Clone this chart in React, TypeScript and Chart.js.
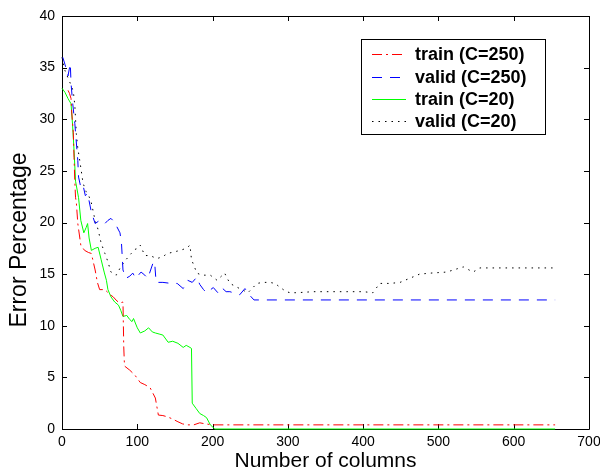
import React, { useEffect, useRef } from "react";
import { Chart, registerables } from "chart.js";
Chart.register(...registerables);

const seriesLabels = ["train (C=250)", "valid (C=250)", "train (C=20)", "valid (C=20)"];
const xTitle = "Number of columns";
const yTitle = "Error Percentage";
const xTicks = [0, 100, 200, 300, 400, 500, 600, 700];
const yTicks = [0, 5, 10, 15, 20, 25, 30, 35, 40];

const trainC250X = [8, 10, 12, 13, 15, 16, 17, 18, 19, 21, 25, 30, 35, 39, 44, 47, 50, 57, 64, 68, 73, 77, 81, 82, 83, 90, 97, 104, 110, 117, 124, 128, 134, 139, 146, 154, 160, 166, 175, 183, 190, 200, 655];
const trainC250Y = [32.8, 32.5, 32, 30.6, 28.7, 26.3, 24, 22.4, 22, 19.9, 17.8, 17.3, 17.1, 17, 15.4, 14.2, 13.5, 13.5, 13, 12.8, 12.4, 12.2, 12.3, 8, 6.1, 5.7, 5.2, 4.5, 4.3, 4.0, 3.0, 1.35, 1.3, 1.2, 1.0, 0.7, 0.5, 0.4, 0.4, 0.6, 0.5, 0.4, 0.4];

const validC250X = [1, 4, 8, 11, 12, 14, 17, 21, 22, 25, 28, 31, 34, 39, 44, 50, 57, 61, 65, 70, 77, 79, 81, 85, 90, 94, 98, 105, 110, 114, 121, 123, 125, 134, 145, 153, 161, 167, 173, 179, 183, 188, 192, 201, 207, 212, 218, 223, 236, 243, 250, 255, 655];
const validC250Y = [36, 35.3, 34.2, 35.4, 33.5, 31.7, 29.6, 26, 24.4, 23.4, 23.6, 22.6, 22.8, 21, 19.9, 20.2, 19.9, 20.2, 20.4, 20.0, 19, 18, 15.4, 14.6, 14.8, 15.1, 14.6, 15.2, 14.9, 14.6, 16.1, 16.2, 14.2, 14.2, 14.1, 14.1, 13.6, 14.4, 14.2, 14.7, 14.0, 13.5, 13.2, 13.7, 13.2, 13.7, 13.3, 13.3, 13.0, 13.6, 12.9, 12.5, 12.5];

const trainC20X = [0, 4, 8, 12, 14, 16, 18, 22, 25, 29, 32, 34, 36, 39, 44, 48, 52, 56, 59, 61, 65, 70, 75, 78, 81, 86, 90, 93, 95, 100, 104, 110, 115, 120, 124, 129, 134, 141, 147, 154, 161, 165, 170, 172, 173, 178, 183, 188, 192, 197, 203, 655];
const trainC20Y = [33, 32.6, 32, 31.5, 29.5, 27, 24, 22.4, 20.2, 19, 19.5, 19.9, 18.5, 17.3, 17.5, 17.6, 16.4, 15.2, 14.4, 13.5, 12.8, 12.3, 12.0, 11.5, 10.9, 11, 10.6, 10.4, 10.7, 9.8, 9.3, 9.5, 9.8, 9.4, 9.3, 9.2, 9.1, 8.4, 8.5, 8.3, 7.9, 8.1, 7.9, 7.8, 2.5, 2.0, 1.5, 1.3, 1.1, 0.4, 0, 0];

const validC20X = [0, 4, 8, 12, 15, 17, 18, 19, 21, 24, 28, 32, 36, 39, 44, 48, 52, 57, 61, 65, 72, 78, 85, 92, 97, 101, 104, 110, 117, 126, 134, 140, 146, 157, 165, 170, 172, 176, 179, 186, 197, 206, 216, 223, 236, 247, 259, 267, 276, 283, 290, 298, 303, 312, 334, 356, 378, 400, 413, 422, 436, 449, 462, 475, 490, 511, 533, 546, 555, 600, 655];
const validC20Y = [36, 34.7, 34, 33.3, 32.7, 31.4, 30, 28.6, 27.2, 25.8, 23.8, 23, 22.5, 21.9, 20.2, 19.3, 18, 17, 16.2, 15.2, 14.9, 15.7, 16.4, 17, 17.4, 17.5, 17.8, 16.8, 16.8, 16.5, 16.7, 17, 17.1, 17.3, 17.5, 17.8, 16.4, 15.7, 15.1, 14.9, 14.9, 14.4, 15.1, 14.1, 13.6, 13.2, 14.1, 14.2, 14.2, 14.1, 13.7, 13.3, 13.2, 13.2, 13.3, 13.3, 13.3, 13.3, 13.2, 14.1, 14.1, 14.2, 14.6, 15.0, 15.1, 15.2, 15.7, 15.2, 15.6, 15.6, 15.6];

const colors = ["#ff0000", "#0000ff", "#00ff00", "#000000"];
const dashes = [[10, 4, 2, 4], [10, 8], [], [1.5, 5]];
const FONT = "'Liberation Sans', Arial, Helvetica, sans-serif";

const toPts = (xs: number[], ys: number[]) => xs.map((x, i) => ({ x, y: ys[i] }));

const framePlugin = {
  id: "frame",
  beforeDatasetsDraw(chart: any) {
    const { ctx, chartArea } = chart;
    const xs = chart.scales.x;
    const ys = chart.scales.y;
    const { left, right, top, bottom } = chartArea;
    ctx.save();
    ctx.strokeStyle = "#000";
    ctx.lineWidth = 1;
    ctx.setLineDash([]);
    ctx.beginPath();
    ctx.rect(Math.round(left) + 0.5, Math.round(top) + 0.5, Math.round(right - left), Math.round(bottom - top));
    ctx.stroke();
    const tl = 5;
    ctx.beginPath();
    xTicks.forEach((v) => {
      const px = Math.round(xs.getPixelForValue(v)) + 0.5;
      ctx.moveTo(px, bottom);
      ctx.lineTo(px, bottom - tl);
      ctx.moveTo(px, top);
      ctx.lineTo(px, top + tl);
    });
    yTicks.forEach((v) => {
      const py = Math.round(ys.getPixelForValue(v)) + 0.5;
      ctx.moveTo(left, py);
      ctx.lineTo(left + tl, py);
      ctx.moveTo(right, py);
      ctx.lineTo(right - tl, py);
    });
    ctx.stroke();
    ctx.restore();
  },
  afterDraw(chart: any) {
    const { ctx, chartArea } = chart;
    ctx.save();
    ctx.fillStyle = "#000";
    ctx.textAlign = "center";
    ctx.textBaseline = "middle";
    ctx.font = `21px ${FONT}`;
    ctx.fillText(xTitle, (chartArea.left + chartArea.right) / 2, 461);
    ctx.translate(20, 240);
    ctx.rotate(-Math.PI / 2);
    ctx.font = `23px ${FONT}`;
    ctx.fillText(yTitle, 0, 0);
    ctx.restore();
  },
};

const legendPlugin = {
  id: "customLegend",
  afterDraw(chart: any) {
    const { ctx } = chart;
    const bx = 361.5, by = 39.5, bw = 184, bh = 95;
    ctx.save();
    ctx.fillStyle = "#fff";
    ctx.fillRect(bx, by, bw, bh);
    ctx.strokeStyle = "#000";
    ctx.lineWidth = 1;
    ctx.setLineDash([]);
    ctx.strokeRect(bx, by, bw, bh);
    const rows = [54, 77, 99, 121];
    ctx.font = `bold 18px ${FONT}`;
    ctx.textBaseline = "middle";
    ctx.textAlign = "left";
    seriesLabels.forEach((lab, i) => {
      const y = rows[i] + 0.5;
      ctx.strokeStyle = colors[i];
      ctx.setLineDash(dashes[i]);
      ctx.beginPath();
      ctx.moveTo(372, y);
      ctx.lineTo(406, y);
      ctx.stroke();
      ctx.fillStyle = "#000";
      ctx.fillText(lab, 415, rows[i] + 1);
    });
    ctx.restore();
  },
};

export default function App() {
  const ref = useRef<HTMLCanvasElement>(null);
  useEffect(() => {
    document.body.style.margin = "0";
    const canvas = ref.current!;
    const datasets = [
      toPts(trainC250X, trainC250Y),
      toPts(validC250X, validC250Y),
      toPts(trainC20X, trainC20Y),
      toPts(validC20X, validC20Y),
    ].map((data, i) => ({
      label: seriesLabels[i],
      data,
      borderColor: colors[i],
      backgroundColor: colors[i],
      borderWidth: 1,
      borderDash: dashes[i],
      pointRadius: 0,
      tension: 0,
      fill: false,
      clip: 2,
    }));
    const chart = new Chart(canvas, {
      type: "line",
      data: { datasets },
      plugins: [framePlugin, legendPlugin],
      options: {
        responsive: false,
        animation: false,
        layout: { padding: { left: 0, top: 16, right: 11, bottom: 0 } },
        plugins: { legend: { display: false }, tooltip: { enabled: false } },
        scales: {
          x: {
            type: "linear",
            min: 0,
            max: 700,
            afterBuildTicks: (s: any) => { s.ticks = xTicks.map((v) => ({ value: v })); },
            afterFit: (s: any) => { s.height = 45; s.paddingLeft = 0; s.paddingRight = 0; },
            grid: { display: false, drawTicks: false },
            border: { display: false },
            ticks: { color: "#000", font: { family: FONT, size: 14 }, padding: 5, maxRotation: 0 },
            title: { display: false },
          },
          y: {
            type: "linear",
            min: 0,
            max: 40,
            afterBuildTicks: (s: any) => { s.ticks = yTicks.map((v) => ({ value: v })); },
            afterFit: (s: any) => { s.width = 62; s.paddingTop = 0; s.paddingBottom = 0; },
            grid: { display: false, drawTicks: false },
            border: { display: false },
            ticks: { color: "#000", font: { family: FONT, size: 14 }, padding: 7 },
            title: { display: false },
          },
        },
      },
    } as any);
    return () => chart.destroy();
  }, []);
  return (
    <div style={{ position: "absolute", left: 0, top: 0, width: 600, height: 474, background: "#fff" }}>
      <canvas ref={ref} width={600} height={474} style={{ width: 600, height: 474 }} />
    </div>
  );
}
